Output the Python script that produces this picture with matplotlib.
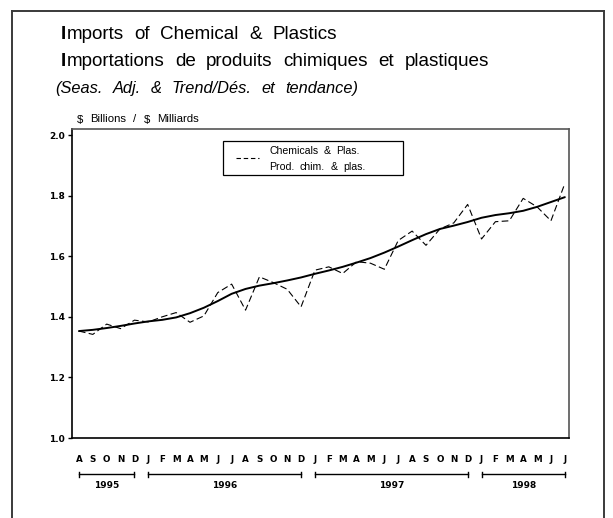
import matplotlib
matplotlib.use("Agg")
import matplotlib.pyplot as plt
from matplotlib.lines import Line2D
from matplotlib.patches import Rectangle
import numpy as np

# ---------------- data ----------------
month_labels = ["A", "S", "O", "N", "D",
                "J", "F", "M", "A", "M", "J", "J", "A", "S", "O", "N", "D",
                "J", "F", "M", "A", "M", "J", "J", "A", "S", "O", "N", "D",
                "J", "F", "M", "A", "M", "J", "J"]
years = ["1995", "1996", "1997", "1998"]
months_per_year = [5, 12, 12, 7]

seas_adj = [1.353, 1.342, 1.376, 1.361, 1.389,
            1.383, 1.400, 1.414, 1.382, 1.403, 1.480, 1.508, 1.422, 1.532, 1.513, 1.491, 1.433,
            1.554, 1.565, 1.543, 1.582, 1.577, 1.557, 1.652, 1.683, 1.636, 1.690, 1.710, 1.771,
            1.657, 1.714, 1.717, 1.791, 1.763, 1.717, 1.840]
trend = [1.353, 1.357, 1.363, 1.370, 1.378,
         1.385, 1.390, 1.398, 1.412, 1.430, 1.452, 1.476, 1.492, 1.503, 1.511, 1.520, 1.530,
         1.542, 1.553, 1.565, 1.579, 1.594, 1.612, 1.632, 1.653, 1.673, 1.690, 1.701, 1.713,
         1.727, 1.736, 1.742, 1.750, 1.763, 1.779, 1.795]
y_ticks = [1.0, 1.2, 1.4, 1.6, 1.8, 2.0]

title1 = "Imports of Chemical & Plastics"
title2 = "Importations de produits chimiques et plastiques"
subtitle = "(Seas. Adj. & Trend/Dés. et tendance)"
unit_label = r"\$ Billions / \$ Milliards"
legend_label = ["Chemicals & Plas.", "Prod. chim. & plas."]

# ---------------- figure ----------------
W, H = 613, 518
fig = plt.figure(figsize=(W / 100, H / 100), dpi=100)
fig.patch.set_facecolor("white")
renderer = fig.canvas.get_renderer()

def fx(px):
    return px / W

def fy(py):
    return 1 - py / H

def spaced_text(x_px, y_px, s, gap, bold_first=False, **kw):
    """Draw words one by one with a wider word gap (in pixels)."""
    x = x_px
    for k, w in enumerate(s.split(" ")):
        if k == 0 and bold_first:
            t = fig.text(fx(x), fy(y_px), w[0], va="baseline", ha="left",
                         fontweight="bold", **kw)
            x += t.get_window_extent(renderer=renderer).width + 0.3
            w = w[1:]
        t = fig.text(fx(x), fy(y_px), w, va="baseline", ha="left", **kw)
        x += t.get_window_extent(renderer=renderer).width + gap

# outer border (left, top, right)
border_col = "#3a3a3a"
fig.add_artist(Line2D([fx(12), fx(12)], [fy(11), 0], color=border_col, lw=1.4))
fig.add_artist(Line2D([fx(12), fx(604)], [fy(11), fy(11)], color=border_col, lw=1.4))
fig.add_artist(Line2D([fx(604), fx(604)], [fy(11), 0], color=border_col, lw=1.4))

ax = fig.add_axes([fx(72), fy(438), fx(569) - fx(72), (438 - 129) / H])

x = np.arange(len(seas_adj))
ax.plot(x, trend, color="black", lw=1.4, solid_capstyle="round")
ax.plot(x, seas_adj, color="black", lw=0.8, dashes=(6, 3))

ax.set_xlim(-0.5, 35.3)
ax.set_ylim(1.0, 2.02)
ax.set_yticks(y_ticks)
ax.set_yticklabels([f"{v:.1f}" for v in y_ticks], fontsize=6.5, fontweight="bold",
                   family="DejaVu Sans")
ax.tick_params(axis="y", direction="out", length=3, width=1, pad=2)
ax.set_xticks([])

for s in ["left", "bottom"]:
    ax.spines[s].set_color("black")
    ax.spines[s].set_linewidth(1.2)
for s in ["top", "right"]:
    ax.spines[s].set_color("#555555")
    ax.spines[s].set_linewidth(1.2)

# month labels and year bars
xt = ax.get_xaxis_transform()
for i, lab in enumerate(month_labels):
    ax.text(i, -0.0696, lab, transform=xt, ha="center", va="center",
            fontsize=6.3, fontweight="bold", family="DejaVu Sans", clip_on=False)

start = 0
ybar = -0.1178
for yr, n in zip(years, months_per_year):
    x0, x1 = start, start + n - 1
    ax.plot([x0, x1], [ybar, ybar], transform=xt, color="black", lw=1.0, clip_on=False)
    for xe in (x0, x1):
        ax.plot([xe, xe], [ybar - 0.009, ybar + 0.009], transform=xt, color="black",
                lw=1.0, clip_on=False)
    ax.text((x0 + x1) / 2, -0.1534, yr, transform=xt, ha="center", va="center",
            fontsize=6.5, fontweight="bold", family="DejaVu Sans", clip_on=False)
    start += n

# titles
ff = "Liberation Sans"
spaced_text(61, 39.3, title1, 10.5, bold_first=True, fontsize=13.6, family=ff)
spaced_text(61, 66, title2, 10.5, bold_first=True, fontsize=13.6, family=ff)
spaced_text(55, 93.3, subtitle, 10, fontsize=11.8, family=ff, style="italic")
spaced_text(77, 122.5, unit_label, 7, fontsize=8.2, family=ff)

# legend (manual box)
fig.add_artist(Rectangle((fx(223), fy(175)), fx(403) - fx(223), fy(141) - fy(175),
                         transform=fig.transFigure, fill=False, edgecolor="black", lw=0.9))
fig.add_artist(Line2D([fx(236), fx(259)], [fy(157.7), fy(157.7)], color="black", lw=0.8,
                      dashes=(4, 2.5)))
spaced_text(269, 153.5, legend_label[0], 5.5, fontsize=7.6, family=ff)
spaced_text(269, 170, legend_label[1], 5.5, fontsize=7.6, family=ff)

fig.savefig("out.png", dpi=100, facecolor="white")
